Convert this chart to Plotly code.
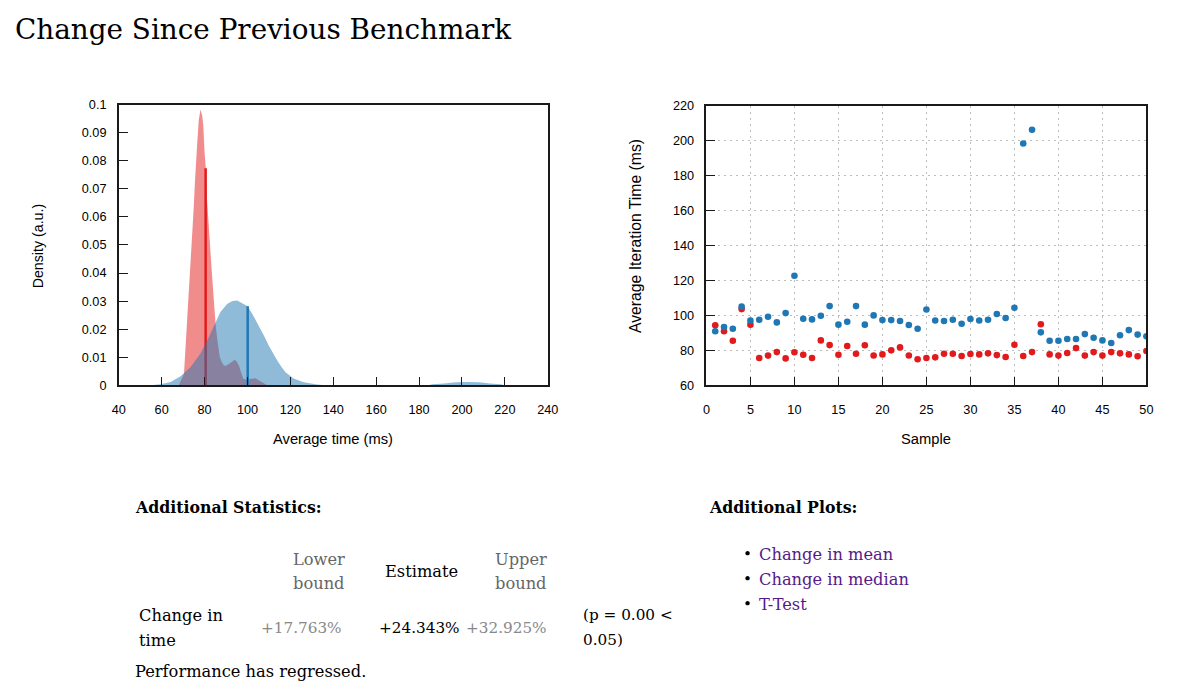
import plotly.graph_objects as go

# The page keeps the browser's 8px body margin, so the figure is 16px smaller than the window.
WIN_W, WIN_H = 1197, 696
OFF = 8
W, H = WIN_W - 2 * OFF, WIN_H - 2 * OFF
# small calibration of the photographed page (measured from a previous render)
SX, BX = 0.987, 6.1
SY, BY = 0.98, 6.6
FS = 1 / 0.984  # font compensation

# ---------------- data ----------------
# Density (PDF) of the base (red) and current (blue) iteration times
base_density_x = [66.0, 68.0, 70.4, 71.2, 72.0, 72.8, 73.6, 74.3, 75.0, 75.5, 76.0, 76.6, 77.3,
                  78.1, 78.9, 79.4, 80.0, 80.5, 80.9, 81.5, 82.0, 82.8, 83.6, 84.4, 85.1, 85.9,
                  87.1, 88.0, 89.0, 90.0, 91.3, 92.7, 94.0, 95.0, 96.0, 97.0, 98.0, 99.3, 100.6,
                  102.2, 103.7, 106.0, 107.6, 109.2, 111.0]
base_density_y = [0, 0, 0.0041, 0.014, 0.024, 0.034, 0.045, 0.0558, 0.064, 0.0723, 0.080, 0.0866,
                  0.0945, 0.0982, 0.096, 0.0925, 0.083, 0.078, 0.069, 0.061, 0.0558, 0.047, 0.038,
                  0.029, 0.022, 0.0166, 0.0101, 0.0083, 0.0071, 0.0070, 0.0075, 0.0083, 0.0091,
                  0.0085, 0.0071, 0.0045, 0.0024, 0.0021, 0.0022, 0.0025, 0.0025, 0.0015, 0.0007,
                  0, 0]
current_density_x = [55.0, 59.5, 64.2, 68.8, 73.5, 78.1, 82.0, 85.1, 87.4, 90.5, 93.0, 95.2, 98.3,
                     100.1, 102.2, 104.0, 106.0, 108.0, 109.9, 111.8, 113.8, 115.8, 117.7, 121.5,
                     126.2, 132.4, 136.0, 184.0, 186.4, 191.6, 197.2, 203.0, 208.0, 213.0, 218.0,
                     220.0]
current_density_y = [0, 0.0004, 0.0012, 0.0032, 0.0065, 0.0113, 0.0172, 0.022, 0.0261, 0.029,
                     0.0300, 0.0302, 0.029, 0.0282, 0.0255, 0.0230, 0.0202, 0.0172, 0.0142, 0.0115,
                     0.0089, 0.0066, 0.0047, 0.0024, 0.0011, 0.0003, 0, 0, 0.0004, 0.0007, 0.0011,
                     0.0012, 0.0011, 0.0007, 0.0004, 0]
base_mean = 80.5
base_mean_density = 0.0773
current_mean = 100.1
current_mean_density = 0.0282

# Average iteration time per sample
samples = list(range(1, 51))
current_times = [90.9, 93.3, 92.4, 105.0, 97.0, 97.5, 99.2, 96.0, 101.3, 122.7,
                 98.1, 97.7, 99.8, 105.3, 94.7, 96.4, 105.3, 94.7, 100.0, 97.3,
                 97.3, 96.8, 94.5, 92.4, 103.4, 97.1, 96.8, 97.5, 95.2, 97.9,
                 97.1, 97.5, 100.8, 98.5, 104.4, 198.3, 206.1, 90.3, 85.5, 85.5,
                 86.5, 86.5, 89.3, 87.2, 85.7, 84.2, 88.6, 91.6, 89.0, 88.0]
base_times = [94.3, 90.9, 85.5, 103.6, 94.7, 75.6, 77.0, 79.0, 75.4, 78.9,
              77.5, 75.6, 85.7, 83.0, 77.5, 82.5, 78.1, 82.9, 77.1, 77.7,
              80.0, 81.7, 77.1, 74.9, 75.6, 76.0, 78.1, 78.1, 76.8, 77.9,
              77.7, 78.3, 77.3, 76.2, 83.2, 76.8, 79.0, 94.9, 77.7, 77.0,
              78.5, 81.3, 77.0, 79.0, 77.0, 79.0, 78.3, 77.7, 76.6, 79.6]

# Tick values / labels
time_ticks = [40, 60, 80, 100, 120, 140, 160, 180, 200, 220, 240]
density_ticks = [0, 0.01, 0.02, 0.03, 0.04, 0.05, 0.06, 0.07, 0.08, 0.09, 0.1]
density_tick_labels = ["0", "0.01", "0.02", "0.03", "0.04", "0.05", "0.06", "0.07", "0.08", "0.09", "0.1"]
sample_ticks = [0, 5, 10, 15, 20, 25, 30, 35, 40, 45, 50]
iter_ticks = [60, 80, 100, 120, 140, 160, 180, 200, 220]

# Page texts
page_title = "Change Since Previous Benchmark"
stats_title = "Additional Statistics:"
stats_headers = [["Lower", "bound"], ["Estimate"], ["Upper", "bound"]]
stats_row_label = ["Change in", "time"]
stats_values = ["+17.763%", "+24.343%", "+32.925%"]
stats_p = ["(p = 0.00 &lt;", "0.05)"]
verdict = "Performance has regressed."
plots_title = "Additional Plots:"
plot_links = ["Change in mean", "Change in median", "T-Test"]

# ---------------- style ----------------
RED = "rgb(227,26,28)"
BLUE = "rgb(31,120,180)"
RED_FILL = "rgba(227,26,28,0.5)"
BLUE_FILL = "rgba(31,120,180,0.5)"
SANS = "Liberation Sans, Arial, sans-serif"
SERIF = "DejaVu Serif, serif"
AXIS_COLOR = "#1a1a1a"


def px(x):
    xd = (x - BX) / SX
    return (xd - OFF) / W


def py(y):
    yd = (y - BY) / SY
    return 1 - (yd - OFF) / H


fig = go.Figure()

# Left: density plot
fig.add_trace(go.Scatter(x=base_density_x, y=base_density_y, mode="lines", fill="tozeroy",
                         fillcolor=RED_FILL, line=dict(width=0, color=RED_FILL),
                         xaxis="x", yaxis="y", hoverinfo="skip"))
fig.add_trace(go.Scatter(x=[base_mean, base_mean], y=[0, base_mean_density], mode="lines",
                         line=dict(width=2.5, color=RED), xaxis="x", yaxis="y", hoverinfo="skip"))
fig.add_trace(go.Scatter(x=current_density_x, y=current_density_y, mode="lines", fill="tozeroy",
                         fillcolor=BLUE_FILL, line=dict(width=0, color=BLUE_FILL),
                         xaxis="x", yaxis="y", hoverinfo="skip"))
fig.add_trace(go.Scatter(x=[current_mean, current_mean], y=[0, current_mean_density], mode="lines",
                         line=dict(width=2.5, color=BLUE), xaxis="x", yaxis="y", hoverinfo="skip"))

# Right: iteration times
fig.add_trace(go.Scatter(x=samples, y=base_times, mode="markers",
                         marker=dict(size=6.6, color=RED), xaxis="x2", yaxis="y2"))
fig.add_trace(go.Scatter(x=samples, y=current_times, mode="markers",
                         marker=dict(size=6.6, color=BLUE), xaxis="x2", yaxis="y2"))

axis_common = dict(showline=True, linecolor=AXIS_COLOR, linewidth=1.5, mirror=True,
                   ticks="inside", ticklen=9, tickwidth=1.2, tickcolor=AXIS_COLOR,
                   zeroline=False, tickfont=dict(family=SANS, size=12.5 * FS, color="#000"),
                   fixedrange=True)
GRID = dict(showgrid=True, gridcolor="#bdbdbd", griddash="2px,4px", gridwidth=1)

fig.update_layout(
    width=W, height=H, margin=dict(l=0, r=0, t=0, b=0),
    paper_bgcolor="white", plot_bgcolor="white", showlegend=False,
    xaxis=dict(domain=[px(118), px(548)], range=[40, 240], tickvals=time_ticks,
               showgrid=False, anchor="y", ticklabelstandoff=12, **axis_common),
    yaxis=dict(domain=[py(385), py(104)], range=[0, 0.1], tickvals=density_ticks,
               ticktext=density_tick_labels, showgrid=False, anchor="x",
               ticklabelstandoff=8, **axis_common),
    xaxis2=dict(domain=[px(707), px(1148)], range=[0, 50], tickvals=sample_ticks,
                anchor="y2", ticklabelstandoff=12, **GRID, **axis_common),
    yaxis2=dict(domain=[py(385), py(105)], range=[60, 220], tickvals=iter_ticks,
                anchor="x2", ticklabelstandoff=8, **GRID, **axis_common),
)

ann = []


def text(x, y, s, size=16, color="#000", anchor="left", family=SERIF, angle=0):
    ann.append(dict(x=px(x), y=py(y), xref="paper", yref="paper", text=s, showarrow=False,
                    xanchor=anchor, yanchor="middle", textangle=angle,
                    font=dict(family=family, size=size * FS, color=color)))


# Axis titles
text(333, 439, "Average time (ms)", size=14.5, anchor="center", family=SANS)
text(37, 245, "Density (a.u.)", size=14, anchor="center", family=SANS, angle=-90)
text(927, 439, "Sample", size=14.5, anchor="center", family=SANS)
text(636, 236, "Average Iteration Time (ms)", size=15.5, anchor="center", family=SANS, angle=-90)

# Page title
text(12, 29, page_title, size=27.4)

# Statistics block
text(132, 507, "<b>" + stats_title + "</b>", size=15.5)
header_x = [(347, "right", "#666"), (421, "center", "#000"), (549, "right", "#666")]
for (hx, anc, col), lines in zip(header_x, stats_headers):
    if len(lines) == 1:
        text(hx, 571, lines[0], anchor=anc, color=col)
    else:
        text(hx, 559, lines[0], anchor=anc, color=col)
        text(hx, 583, lines[1], anchor=anc, color=col)
text(136, 615, stats_row_label[0])
text(136, 640, stats_row_label[1])
value_x = [(344, "#888"), (462, "#000"), (549, "#888")]
for (vx, col), v in zip(value_x, stats_values):
    text(vx, 628, v, anchor="right", color=col, size=15)
text(581, 615, stats_p[0], size=15)
text(581, 640, stats_p[1], size=15)
text(132, 671, verdict)

# Additional plots block
text(708, 507, "<b>" + plots_title + "</b>", size=15.5)
for i, link in enumerate(plot_links):
    yy = 554 + 25 * i
    text(748, yy, "•", anchor="center", size=15)
    text(758, yy, link, color="#551a8b")

fig.update_layout(annotations=ann)

fig.write_html("out.html", config={"displayModeBar": False})
